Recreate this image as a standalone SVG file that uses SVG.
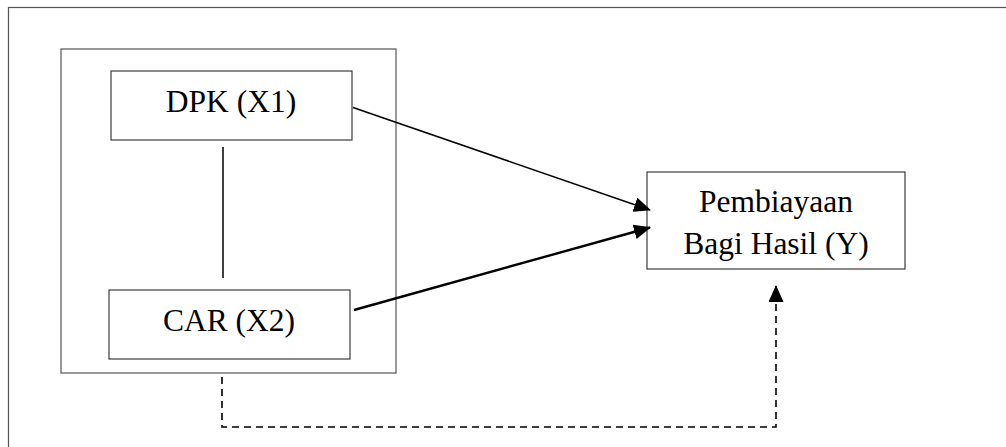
<svg xmlns="http://www.w3.org/2000/svg" width="1006" height="447" viewBox="0 0 1006 447">
<style>
.frame{fill:none;stroke:#555;stroke-width:1.2}
.box{fill:#fff;stroke:#2a2a2a;stroke-width:1.1}
.lbl{font-family:"Liberation Serif","Times New Roman",serif;font-size:31.5px;fill:#000;text-anchor:middle}
.edge{fill:none;stroke:#000}
</style>
<defs>
<marker id="ah" markerWidth="17" markerHeight="15" refX="16" refY="7.5" orient="auto" markerUnits="userSpaceOnUse">
<path d="M0,0 L17,7.5 L0,15 Z" fill="#000"/>
</marker>
</defs>
<rect width="1006" height="447" fill="#fff"/>
<rect class="frame" x="8.5" y="7.5" width="1010" height="470"/>
<g id="group-x">
<rect class="frame" x="61" y="49" width="335" height="324"/>
</g>
<g id="dpk">
<rect class="box" x="111" y="71" width="241" height="69"/>
<text class="lbl" x="231" y="112">DPK (X1)</text>
</g>
<g id="car">
<rect class="box" x="109" y="290" width="241" height="69"/>
<text class="lbl" x="229" y="331">CAR (X2)</text>
</g>
<g id="y">
<rect class="box" x="647" y="172" width="258" height="97"/>
<text class="lbl" x="776" y="212">Pembiayaan</text>
<text class="lbl" x="776" y="254">Bagi Hasil (Y)</text>
</g>
<g id="connectors">
<line class="edge" x1="223" y1="147" x2="223" y2="278" stroke-width="1.5"/>
<line class="edge" x1="353" y1="107.5" x2="650" y2="210" stroke-width="1.6" marker-end="url(#ah)"/>
<line class="edge" x1="354" y1="310" x2="650" y2="227.5" stroke-width="2.4" marker-end="url(#ah)"/>
<path class="edge" d="M222,377 V427 H776 V286" stroke-width="1.6" stroke-dasharray="7,5" marker-end="url(#ah)"/>
</g>
</svg>
